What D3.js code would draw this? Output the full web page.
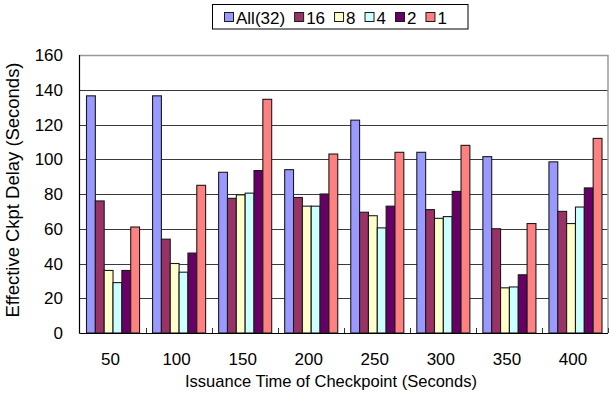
<!DOCTYPE html>
<html>
<head>
<meta charset="utf-8">
<script src="https://cdn.jsdelivr.net/npm/d3@7"></script>
<style>
  html, body { margin: 0; padding: 0; background: #fff; }
  svg { display: block; }
  svg text { font-family: Arial, "Liberation Sans", Arimo, Helvetica, sans-serif; font-weight: normal; }
</style>
</head>
<body>
<svg id="chart" width="609" height="400"></svg>
<script>
// Checkpoint issuance times (x categories)
const categories = ["50", "100", "150", "200", "250", "300", "350", "400"];
// Series names (number of nodes checkpointing)
const seriesNames = ["All(32)", "16", "8", "4", "2", "1"];
// Effective checkpoint delay in seconds, one array per series
const seriesAll = [136.5, 136.5, 92.5, 94, 122.5, 104, 101.5, 98.5];
const series16  = [76, 54, 77.5, 78, 69.5, 71, 60, 70];
const series8   = [36, 40, 79.5, 73, 67.5, 66, 26, 63];
const series4   = [29, 35, 80.5, 73, 60.5, 67, 26.5, 72.5];
const series2   = [36, 46, 93.5, 80, 73, 81.5, 33.5, 83.5];
const series1   = [61, 85, 134.5, 103, 104, 108, 63, 112];
const yTicks = [0, 20, 40, 60, 80, 100, 120, 140, 160];

const seriesValues = [seriesAll, series16, series8, series4, series2, series1];
const colors = ["#9999FF", "#993366", "#FFFFCC", "#CCFFFF", "#660066", "#FF8080"];
const FONT = 'Arial, "Liberation Sans", Arimo, Helvetica, sans-serif';

const svg = d3.select("#chart");
const plot = { left: 79.5, right: 608, top: 55, bottom: 333 };

const x0 = d3.scaleBand().domain(categories).range([plot.left, plot.right]).padding(0);
const x1 = d3.scaleBand().domain(seriesNames).range([7, x0.bandwidth() - 6]).padding(0);
const y = d3.scaleLinear().domain([0, 160]).range([plot.bottom, plot.top]);

// Horizontal gridlines
svg.append("g").selectAll("line")
  .data(yTicks.filter(t => t > 0 && t < 160))
  .join("line")
  .attr("x1", plot.left).attr("x2", plot.right)
  .attr("y1", d => Math.round(y(d)) + 0.5).attr("y2", d => Math.round(y(d)) + 0.5)
  .attr("stroke", "#3a3a3a").attr("stroke-width", 1);

// Plot frame: top and right edges in grey
svg.append("path")
  .attr("d", `M${plot.left},${Math.round(y(160)) + 0.5}H${plot.right}V${plot.bottom}`)
  .attr("fill", "none").attr("stroke", "#999").attr("stroke-width", 1.5);

// Bars
const groups = svg.append("g").selectAll("g")
  .data(categories)
  .join("g")
  .attr("transform", d => `translate(${x0(d)},0)`);

groups.selectAll("rect")
  .data((c, i) => seriesNames.map((s, k) => ({ s, v: seriesValues[k][i], k })))
  .join("rect")
  .attr("x", d => x1(d.s))
  .attr("y", d => y(d.v))
  .attr("width", x1.bandwidth())
  .attr("height", d => y(0) - y(d.v))
  .attr("fill", d => colors[d.k])
  .attr("stroke", "#1a1a1a").attr("stroke-width", 1.1);

// Axes lines
svg.append("line")
  .attr("x1", plot.left).attr("x2", plot.left)
  .attr("y1", y(160)).attr("y2", plot.bottom + 0.5)
  .attr("stroke", "#000").attr("stroke-width", 1.2);
svg.append("line")
  .attr("x1", plot.left).attr("x2", plot.right)
  .attr("y1", plot.bottom + 0.5).attr("y2", plot.bottom + 0.5)
  .attr("stroke", "#000").attr("stroke-width", 1.2);

// Category separators: small inward ticks on the x axis
svg.append("g").selectAll("line")
  .data(categories)
  .join("line")
  .attr("x1", d => Math.round(x0(d) + x0.step()) + 0.5)
  .attr("x2", d => Math.round(x0(d) + x0.step()) + 0.5)
  .attr("y1", plot.bottom - 5).attr("y2", plot.bottom)
  .attr("stroke", "#333").attr("stroke-width", 1);

// Y tick labels
svg.append("g").selectAll("text")
  .data(yTicks)
  .join("text")
  .attr("x", 63).attr("y", d => y(d))
  .attr("dy", "0.36em")
  .attr("text-anchor", "end")
  .attr("font-family", FONT)
  .attr("font-size", 17)
  .attr("fill", "#000")
  .text(d => d);

// X tick labels
svg.append("g").selectAll("text")
  .data(categories)
  .join("text")
  .attr("x", d => x0(d) + x0.bandwidth() / 2 - 2)
  .attr("y", 365)
  .attr("text-anchor", "middle")
  .attr("font-family", FONT)
  .attr("font-size", 17)
  .attr("fill", "#000")
  .text(d => d);

// Axis titles
svg.append("text")
  .attr("x", 331).attr("y", 387)
  .attr("text-anchor", "middle")
  .attr("font-family", FONT)
  .attr("font-size", 17)
  .attr("textLength", 292).attr("lengthAdjust", "spacingAndGlyphs")
  .text("Issuance Time of Checkpoint (Seconds)");

svg.append("text")
  .attr("transform", "translate(19,190) rotate(-90)")
  .attr("text-anchor", "middle")
  .attr("font-family", FONT)
  .attr("font-size", 18.5)
  .attr("textLength", 255).attr("lengthAdjust", "spacingAndGlyphs")
  .text("Effective Ckpt Delay (Seconds)");

// Legend
const legend = svg.append("g");
legend.append("rect")
  .attr("x", 212.5).attr("y", 4.5).attr("width", 255.5).attr("height", 24.5)
  .attr("fill", "#fff").attr("stroke", "#000").attr("stroke-width", 1);

let lx = 224;
seriesNames.forEach((name, k) => {
  legend.append("rect")
    .attr("x", lx + 0.5).attr("y", 12.5).attr("width", 9).attr("height", 9)
    .attr("fill", colors[k]).attr("stroke", "#1a1a1a").attr("stroke-width", 1);
  const t = legend.append("text")
    .attr("x", lx + 12).attr("y", 24)
    .attr("font-family", FONT)
    .attr("font-size", 17)
    .text(name);
  const w = t.node().getComputedTextLength();
  lx = lx + 12 + w + 9;
});
</script>
</body>
</html>
